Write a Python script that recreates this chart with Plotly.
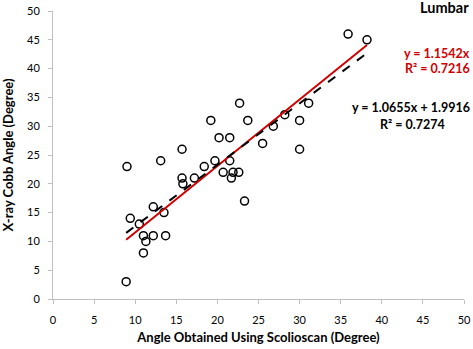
import numpy as np
import plotly.graph_objects as go

# Data
scolioscan = [8.9, 9.0, 9.4, 10.5, 11.0, 11.3, 11.0, 12.2, 13.7, 12.2, 13.5, 13.1,
              15.7, 15.7, 15.8, 17.2, 18.4, 19.7, 21.5, 20.7, 21.7, 21.9, 22.6, 23.3,
              19.2, 20.2, 21.5, 22.7, 23.7, 25.5, 26.8, 28.2, 30.0, 31.1, 30.0, 35.9, 38.2]
xray_cobb = [3, 23, 14, 13, 11, 10, 8, 11, 11, 16, 15, 24,
             26, 21, 20, 21, 23, 24, 24, 22, 21, 22, 22, 17,
             31, 28, 28, 34, 31, 27, 30, 32, 31, 34, 26, 46, 45]

# Trendline coefficients shown on the chart
origin_slope = 1.1542
origin_r2 = 0.7216
lin_slope = 1.0655
lin_intercept = 1.9916
lin_r2 = 0.7274

axis_ticks = [0, 5, 10, 15, 20, 25, 30, 35, 40, 45, 50]

FONT = "Lato"
xs = np.array([min(scolioscan), max(scolioscan)])

fig = go.Figure()
fig.add_trace(go.Scatter(
    x=scolioscan, y=xray_cobb, mode="markers",
    marker=dict(symbol="circle-open", size=8, color="black", line=dict(width=1.5, color="black")),
    showlegend=False, hoverinfo="skip"))
fig.add_trace(go.Scatter(
    x=xs, y=origin_slope * xs, mode="lines",
    line=dict(color="#d00000", width=2), showlegend=False, hoverinfo="skip"))
fig.add_trace(go.Scatter(
    x=xs, y=lin_slope * xs + lin_intercept, mode="lines",
    line=dict(color="black", width=2, dash="dash"), showlegend=False, hoverinfo="skip"))

axis_common = dict(
    range=[0, 50], tickvals=axis_ticks, ticktext=[str(t) for t in axis_ticks],
    showgrid=False, zeroline=False, showline=True, linecolor="#c0c0c0", linewidth=1,
    ticks="outside", ticklen=4, tickcolor="#c0c0c0", automargin=False,
    tickfont=dict(family=FONT, size=11, color="black"),
)

fig.update_layout(
    width=473, height=349,
    margin=dict(l=53, r=9, t=11, b=50),
    paper_bgcolor="white", plot_bgcolor="white",
    xaxis=dict(**axis_common, ticklabelstandoff=7,
               title=dict(text="<b>Angle Obtained Using Scolioscan (Degree)</b>",
                          font=dict(family=FONT, size=13, color="black"), standoff=7)),
    yaxis=dict(**axis_common, ticklabelstandoff=6,
               title=dict(text="<b>X-ray Cobb Angle (Degree)</b>",
                          font=dict(family=FONT, size=13, color="black"), standoff=11)),
)

def px_to_paper(px, py):
    return (px - 53) / 411.0, (299 - py) / 288.0

annos = [
    ("<b>Lumbar</b>", 471, 8, "black", 14.5, "right"),
    ("<b>y = %.4fx</b>" % origin_slope, 472, 53, "#d00000", 12.5, "right"),
    ("<b>R² = %.4f</b>" % origin_r2, 472, 69, "#d00000", 12.5, "right"),
    ("<b>y = %.4fx + %.4f</b>" % (lin_slope, lin_intercept), 472, 107, "black", 12.5, "right"),
    ("<b>R² = %.4f</b>" % lin_r2, 412, 124, "black", 12.5, "center"),
]
for text, px, py, col, size, anchor in annos:
    ax, ay = px_to_paper(px, py)
    fig.add_annotation(text=text, x=ax, y=ay, xref="paper", yref="paper",
                       xanchor=anchor, yanchor="middle", showarrow=False,
                       font=dict(family=FONT, size=size, color=col))

fig.write_html("out.html", config={"displayModeBar": False},
               post_script="document.body.style.margin='0';document.body.style.overflow='hidden';")
